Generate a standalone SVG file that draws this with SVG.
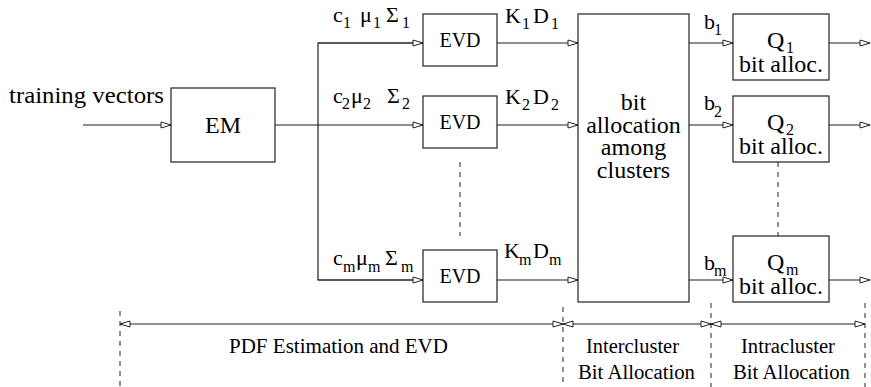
<svg xmlns="http://www.w3.org/2000/svg" width="871" height="387" viewBox="0 0 871 387">
<defs>
<style>
.box{fill:#fff;stroke:#222;stroke-width:1.2}
.ln{fill:none;stroke:#222;stroke-width:1.2}
.dash{fill:none;stroke:#222;stroke-width:1;stroke-dasharray:5,5}
</style>
<marker id="arr" markerUnits="userSpaceOnUse" markerWidth="12" markerHeight="9" refX="11" refY="4" orient="auto-start-reverse" viewBox="0 0 12 9">
<path d="M1,1 L11,4 L1,7 Z" fill="#fff" stroke="#222" stroke-width="1"/>
</marker>
</defs>

<g id="connectors">
<line class="ln" x1="83" y1="125" x2="171" y2="125" marker-end="url(#arr)"/>
<line class="ln" x1="275" y1="125" x2="423" y2="125" marker-end="url(#arr)"/>
<polyline class="ln" points="423,43 318,43 318,280 423,280"/>
<line class="ln" x1="318" y1="43" x2="423" y2="43" marker-end="url(#arr)"/>
<line class="ln" x1="318" y1="280" x2="423" y2="280" marker-end="url(#arr)"/>
<line class="ln" x1="497" y1="43" x2="578" y2="43" marker-end="url(#arr)"/>
<line class="ln" x1="497" y1="125" x2="578" y2="125" marker-end="url(#arr)"/>
<line class="ln" x1="497" y1="280" x2="578" y2="280" marker-end="url(#arr)"/>
<line class="ln" x1="689" y1="43" x2="733" y2="43" marker-end="url(#arr)"/>
<line class="ln" x1="689" y1="125" x2="733" y2="125" marker-end="url(#arr)"/>
<line class="ln" x1="689" y1="280" x2="733" y2="280" marker-end="url(#arr)"/>
<line class="ln" x1="829" y1="43" x2="870" y2="43" marker-end="url(#arr)"/>
<line class="ln" x1="829" y1="125" x2="870" y2="125" marker-end="url(#arr)"/>
<line class="ln" x1="829" y1="280" x2="870" y2="280" marker-end="url(#arr)"/>
<line class="dash" x1="460" y1="162" x2="460" y2="236"/>
<line class="dash" x1="778" y1="162" x2="778" y2="236"/>
<line class="dash" x1="120" y1="311" x2="120" y2="387"/>
<line class="dash" x1="563" y1="307" x2="563" y2="387"/>
<line class="dash" x1="711" y1="303" x2="711" y2="387"/>
<line class="dash" x1="865" y1="303" x2="865" y2="387"/>
<line class="ln" x1="120" y1="324" x2="563" y2="324" marker-start="url(#arr)" marker-end="url(#arr)"/>
<line class="ln" x1="563" y1="324" x2="711" y2="324" marker-start="url(#arr)" marker-end="url(#arr)"/>
<line class="ln" x1="711" y1="324" x2="865" y2="324" marker-start="url(#arr)" marker-end="url(#arr)"/>
</g>

<g id="labels">
<text font-family="Liberation Serif" font-size="24" x="9" y="103" textLength="155" lengthAdjust="spacingAndGlyphs">training vectors</text>
<text font-family="Liberation Serif" font-size="22" x="333" y="22">c</text><text font-family="Liberation Serif" font-size="16" x="343" y="28">1</text>
<text font-family="Liberation Serif" font-size="22" x="360" y="22">&#956;</text><text font-family="Liberation Serif" font-size="16" x="373" y="28">1</text>
<text font-family="Liberation Serif" font-size="22" x="386" y="22">&#931;</text><text font-family="Liberation Serif" font-size="16" x="402" y="28">1</text>
<text font-family="Liberation Serif" font-size="22" x="505" y="23">K</text><text font-family="Liberation Serif" font-size="16" x="522" y="29">1</text>
<text font-family="Liberation Serif" font-size="22" x="533" y="23">D</text><text font-family="Liberation Serif" font-size="16" x="551" y="29">1</text>
<text font-family="Liberation Serif" font-size="22" x="333" y="103">c</text><text font-family="Liberation Serif" font-size="16" x="342" y="109">2</text>
<text font-family="Liberation Serif" font-size="22" x="351" y="103">&#956;</text><text font-family="Liberation Serif" font-size="16" x="363" y="109">2</text>
<text font-family="Liberation Serif" font-size="22" x="387" y="103">&#931;</text><text font-family="Liberation Serif" font-size="16" x="402" y="109">2</text>
<text font-family="Liberation Serif" font-size="22" x="505" y="104">K</text><text font-family="Liberation Serif" font-size="16" x="522" y="110">2</text>
<text font-family="Liberation Serif" font-size="22" x="533" y="104">D</text><text font-family="Liberation Serif" font-size="16" x="551" y="110">2</text>
<text font-family="Liberation Serif" font-size="22" x="333" y="265">c</text><text font-family="Liberation Serif" font-size="16" x="343" y="272">m</text>
<text font-family="Liberation Serif" font-size="22" x="356" y="265">&#956;</text><text font-family="Liberation Serif" font-size="16" x="368" y="272">m</text>
<text font-family="Liberation Serif" font-size="22" x="385" y="265">&#931;</text><text font-family="Liberation Serif" font-size="16" x="401" y="272">m</text>
<text font-family="Liberation Serif" font-size="22" x="504" y="258">K</text><text font-family="Liberation Serif" font-size="16" x="519" y="265">m</text>
<text font-family="Liberation Serif" font-size="22" x="533" y="258">D</text><text font-family="Liberation Serif" font-size="16" x="549" y="265">m</text>
<text font-family="Liberation Serif" font-size="22" x="704" y="29">b</text><text font-family="Liberation Serif" font-size="16" x="714" y="35">1</text>
<text font-family="Liberation Serif" font-size="22" x="704" y="110">b</text><text font-family="Liberation Serif" font-size="16" x="714" y="117">2</text>
<text font-family="Liberation Serif" font-size="22" x="704" y="270">b</text><text font-family="Liberation Serif" font-size="16" x="714" y="276">m</text>
<text font-family="Liberation Serif" font-size="20" x="229" y="353" textLength="219" lengthAdjust="spacingAndGlyphs">PDF Estimation and EVD</text>
<text font-family="Liberation Serif" font-size="20" x="586" y="353" textLength="93" lengthAdjust="spacingAndGlyphs">Intercluster</text>
<text font-family="Liberation Serif" font-size="20" x="578" y="379" textLength="117" lengthAdjust="spacingAndGlyphs">Bit Allocation</text>
<text font-family="Liberation Serif" font-size="20" x="741" y="353" textLength="94" lengthAdjust="spacingAndGlyphs">Intracluster</text>
<text font-family="Liberation Serif" font-size="20" x="733" y="379" textLength="117" lengthAdjust="spacingAndGlyphs">Bit Allocation</text>
</g>

<g id="em">
<rect class="box" x="171" y="88" width="104" height="74"/>
<text font-family="Liberation Serif" font-size="24" x="223" y="133" text-anchor="middle">EM</text>
</g>
<g id="evd1">
<rect class="box" x="423" y="14" width="74" height="52"/>
<text font-family="Liberation Serif" font-size="20" x="460" y="47" text-anchor="middle">EVD</text>
</g>
<g id="evd2">
<rect class="box" x="423" y="96" width="74" height="52"/>
<text font-family="Liberation Serif" font-size="20" x="460" y="129" text-anchor="middle">EVD</text>
</g>
<g id="evdm">
<rect class="box" x="423" y="250" width="74" height="52"/>
<text font-family="Liberation Serif" font-size="20" x="460" y="283" text-anchor="middle">EVD</text>
</g>
<g id="alloc">
<rect class="box" x="578" y="14" width="111" height="288"/>
<text font-family="Liberation Serif" font-size="24" text-anchor="middle"><tspan x="633.5" y="110">bit</tspan><tspan x="633.5" y="132.5">allocation</tspan><tspan x="633.5" y="155">among</tspan><tspan x="633.5" y="177.5">clusters</tspan></text>
</g>
<g id="q1">
<rect class="box" x="733" y="14" width="96" height="66"/>
<text font-family="Liberation Serif" font-size="24" x="767" y="48">Q</text><text font-family="Liberation Serif" font-size="16" x="786" y="53">1</text>
<text font-family="Liberation Serif" font-size="24" x="781" y="72" text-anchor="middle">bit alloc.</text>
</g>
<g id="q2">
<rect class="box" x="733" y="96" width="96" height="66"/>
<text font-family="Liberation Serif" font-size="24" x="767" y="130">Q</text><text font-family="Liberation Serif" font-size="16" x="786" y="135">2</text>
<text font-family="Liberation Serif" font-size="24" x="781" y="154" text-anchor="middle">bit alloc.</text>
</g>
<g id="qm">
<rect class="box" x="733" y="236" width="96" height="66"/>
<text font-family="Liberation Serif" font-size="24" x="767" y="270">Q</text><text font-family="Liberation Serif" font-size="16" x="786" y="275">m</text>
<text font-family="Liberation Serif" font-size="24" x="781" y="294" text-anchor="middle">bit alloc.</text>
</g>
</svg>
